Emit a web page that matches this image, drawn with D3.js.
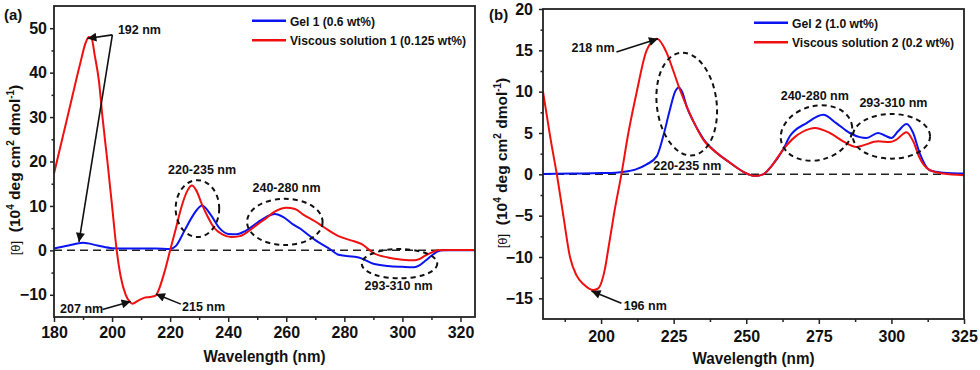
<!DOCTYPE html>
<html>
<head>
<meta charset="utf-8">
<script src="https://cdn.jsdelivr.net/npm/d3@7"></script>
<style>
body { margin: 0; background: #fff; }
svg { font-family: "Liberation Sans", Arial, Helvetica, sans-serif; font-weight: bold; }
</style>
</head>
<body>
<div id="chart"></div>
<script>
// ---- Panel (a) data ----
const wlGel1 = [180,185,190,195,200,205,210,215,220,222,225,228,231,234,237,240,243,246,250,253,256,259,262,265,267,270,275,278,285,290,295,300,304,306,308,310,312,314,316,320,325]
const valGel1 = [0.4,1.1,1.7,1.1,0.5,0.4,0.4,0.4,0.3,1.0,4.5,8.0,10.1,8.0,5.0,3.7,3.6,4.4,6.2,7.5,8.2,7.5,6.0,4.8,3.8,2.3,0.3,-1.0,-1.6,-3.0,-3.5,-3.7,-3.8,-3.3,-2.3,-1.2,-0.3,0,0,0,0]

const wlVisc1 = [180,183,186,189,191,192,193,194,195.5,196.7,198.4,200,201.6,203,204.7,206,207,209,211,213,215,216,218,220,222,224,226,227.5,229,231,233,235,238,241,244,247,250,253,256,260,263,266,270,273,278,282,286,290,295,300,304,306,308,310,312,316,320,325]
const valVisc1 = [17.3,25.5,33.8,42,46.9,48,47.6,44,38,30,20,10,0,-6,-10,-11.5,-12,-11.3,-10.7,-10.5,-10.2,-9,-5,0,5,10,13.5,14.6,13.5,10.3,7.5,5.2,3.6,3.0,3.2,4.3,5.8,7.2,8.7,9.6,9.3,8.0,6.5,5.2,3.2,2.3,1.4,-0.6,-1.6,-2.1,-2.25,-1.9,-1.1,-0.5,0,0.1,0.1,0.1]

const xTicksA = [180,200,220,240,260,280,300,320]
const xMinorA = [190,210,230,250,270,290,310]
const yTicksA = [-10,0,10,20,30,40,50]
const yMinorA = [-5,5,15,25,35,45]

// ---- Panel (b) data ----
const wlGel2 = [180,190,200,205,208,212,215.7,219.2,221.4,223.7,225.5,226.8,228,229.5,231.8,235.2,239.8,244.4,249,253,255.8,258.7,262.7,265,270.8,276.5,281,285.7,289.1,291.4,295.4,297.7,300,302.3,305.2,307.5,309.7,313.2,317.8,325]
const valGel2 = [0.05,0.1,0.15,0.2,0.3,0.6,1.2,2.2,4.6,7.8,10,10.5,9.9,8.2,6.4,4.3,2.6,1.4,0.3,-0.2,0,1,3,4.6,6.2,7.2,6.2,5,4.5,4.4,5,4.7,4.4,5.2,6.1,5,2.6,0.5,0.2,0.1]

const wlVisc2 = [180,182.5,185,187,189.3,191.5,194,197.4,199,200.2,201.3,202.5,204.6,207,209.4,212.3,215.7,219.2,222.6,224.9,227.2,229.5,231.8,235.2,239.8,244.4,249,253,255.8,258.7,262.7,266.7,271.9,273.6,278.8,283.4,288,290.3,295.4,299.4,301.7,305.2,307.5,309.7,313.2,317.8,325]
const valVisc2 = [10,4.5,-0.5,-5,-10,-12.2,-13.3,-14,-13.8,-13,-11.5,-9,-4.5,0,5,10,15,16.4,14.7,12.5,10.2,8.2,6.4,4.2,2.6,1.4,0.3,-0.2,0,1,3,4.5,5.5,5.6,5,4,3.3,3.5,4,3.9,4.2,5.1,4,2,0.5,0.1,-0.1]

const xTicksB = [200,225,250,275,300,325]
const xMinorB = [187.5,212.5,237.5,262.5,287.5,312.5]
const yTicksB = [-15,-10,-5,0,5,10,15,20]
const yMinorB = [-12.5,-7.5,-2.5,2.5,7.5,12.5,17.5]

// ---- annotations (data coordinates) ----
const notesA = [
    {t: "192 nm", x: 202, y: 48.7, a: "start"},
    {t: "207 nm", x: 182.1, y: -14.1, a: "start"},
    {t: "215 nm", x: 224.1, y: -13.6, a: "start"},
    {t: "220-235 nm", x: 231, y: 17.2, a: "middle"},
    {t: "240-280 nm", x: 260.1, y: 13.1, a: "middle"},
    {t: "293-310 nm", x: 298.7, y: -8.9, a: "middle"},
]
const arrowsA = [
    [200.1, 48.5, 191.5, 47.7],
    [200.1, 48.5, 188.6, 1.9],
    [196.7, -13.3, 206.4, -11.5],
    [223.7, -12.1, 215.1, -9.8],
]
const ellipsesA = [
    [229.4, 9.4, 7.5, 6.4, 0],
    [259.5, 6.4, 13, 5.2, 0],
    [299, -3, 13, 3.3, 0],
]

const notesB = [
    {t: "218 nm", x: 189.8, y: 14.8, a: "start"},
    {t: "196 nm", x: 207.8, y: -16.4, a: "start"},
    {t: "220-235 nm", x: 229.7, y: 0.55, a: "middle"},
    {t: "240-280 nm", x: 273.6, y: 9.0, a: "middle"},
    {t: "293-310 nm", x: 300.7, y: 8.1, a: "middle"},
]
const arrowsB = [
    [205.3, 14.8, 219.6, 16.4],
    [207.0, -15.6, 196.7, -14.1],
]
const ellipsesB = [
    [229.5, 8.5, 10.3, 6.25, -7],
    [274.2, 5, 12.5, 3.27, -15],
    [300, 4.6, 13.3, 2.7, 0],
]

const svg = d3.select("#chart").append("svg")
    .attr("width", 980)
    .attr("height", 370)

svg.append("defs").append("marker")
    .attr("id", "head")
    .attr("viewBox", "0 0 10 10")
    .attr("refX", 10).attr("refY", 5)
    .attr("markerWidth", 13).attr("markerHeight", 9)
    .attr("markerUnits", "userSpaceOnUse")
    .attr("orient", "auto")
    .append("path")
    .attr("d", "M0,0 L10,5 L0,10 Z")
    .attr("fill", "#111")

const drawPanel = (p) => {
    const x = d3.scaleLinear().domain(p.xDomain).range([p.left, p.right])
    const y = d3.scaleLinear().domain(p.yDomain).range([p.bottom, p.top])

    const g = svg.append("g")

    // zero line
    g.append("line")
        .attr("x1", x(p.xDomain[0])).attr("x2", x(p.xDomain[1]))
        .attr("y1", y(0)).attr("y2", y(0))
        .attr("stroke", "#222").attr("stroke-width", 1.5)
        .attr("stroke-dasharray", "8,5")

    const line = d3.line()
        .x(d => x(d[0]))
        .y(d => y(d[1]))
        .curve(d3.curveMonotoneX)

    p.series.forEach(s => {
        g.append("path")
            .datum(d3.zip(s.wl, s.val))
            .attr("d", line)
            .attr("fill", "none")
            .attr("stroke", s.color)
            .attr("stroke-width", 2)
    })

    // axes
    g.append("g").attr("transform", `translate(0,${p.bottom})`)
        .call(d3.axisBottom(x).tickValues(p.xTicks).tickSize(5).tickPadding(p.xPad).tickSizeOuter(0))
    g.append("g").attr("transform", `translate(0,${p.bottom})`)
        .call(d3.axisBottom(x).tickValues(p.xMinor).tickSize(3).tickFormat("").tickSizeOuter(0))
    g.append("g").attr("transform", `translate(${p.left},0)`)
        .call(d3.axisLeft(y).tickValues(p.yTicks).tickSize(4).tickPadding(p.yPad).tickSizeOuter(0))
    g.append("g").attr("transform", `translate(${p.left},0)`)
        .call(d3.axisLeft(y).tickValues(p.yMinor).tickSize(2.5).tickFormat("").tickSizeOuter(0))
    g.selectAll(".domain").remove()
    g.selectAll(".tick line").attr("stroke", "#222").attr("stroke-width", 1.5)
    g.selectAll(".tick text").attr("font-size", 16).attr("font-weight", "bold")
        .attr("fill", "#111").attr("font-family", "Liberation Sans, Arial, sans-serif")

    g.append("rect")
        .attr("x", p.left).attr("y", p.top)
        .attr("width", p.right - p.left).attr("height", p.bottom - p.top)
        .attr("fill", "none").attr("stroke", "#222").attr("stroke-width", 1.8)

    // annotations
    p.arrows.forEach(a => {
        g.append("line")
            .attr("x1", x(a[0])).attr("y1", y(a[1]))
            .attr("x2", x(a[2])).attr("y2", y(a[3]))
            .attr("stroke", "#111").attr("stroke-width", 1.6)
            .attr("marker-end", "url(#head)")
    })
    p.ellipses.forEach(e => {
        const cx = x(e[0]), cy = y(e[1])
        g.append("ellipse")
            .attr("cx", cx).attr("cy", cy)
            .attr("rx", x(e[0] + e[2]) - cx)
            .attr("ry", cy - y(e[1] + e[3]))
            .attr("transform", `rotate(${e[4]},${cx},${cy})`)
            .attr("fill", "none").attr("stroke", "#111")
            .attr("stroke-width", 2).attr("stroke-dasharray", "5,4")
    })
    g.selectAll(".note").data(p.notes).enter()
        .append("text")
        .attr("x", d => x(d.x)).attr("y", d => y(d.y))
        .attr("text-anchor", d => d.a)
        .attr("font-size", 12.5).attr("fill", "#111")
        .text(d => d.t)

    // legend
    p.series.forEach((s, i) => {
        const ly = p.legendY + i * 19.5
        g.append("line")
            .attr("x1", p.legendX).attr("x2", p.legendX + 34)
            .attr("y1", ly).attr("y2", ly)
            .attr("stroke", s.color).attr("stroke-width", 2.4)
        g.append("text")
            .attr("x", p.legendX + 38).attr("y", ly + 5)
            .attr("font-size", 13.5).attr("fill", "#111")
            .attr("textLength", s.textLen).attr("lengthAdjust", "spacingAndGlyphs")
            .text(s.name)
    })

    // titles
    g.append("text")
        .attr("x", (p.left + p.right) / 2).attr("y", p.bottom + 45)
        .attr("text-anchor", "middle").attr("font-size", 17).attr("fill", "#111")
        .attr("textLength", 122).attr("lengthAdjust", "spacingAndGlyphs")
        .text("Wavelength (nm)")

    const yt = g.append("text")
        .attr("transform", `translate(${p.yTitleX},${p.yTitleY}) rotate(-90)`)
        .attr("text-anchor", "middle").attr("font-size", 15.5).attr("fill", "#111")
    yt.append("tspan").attr("font-size", 13).attr("font-weight", "normal").text("[θ]")
    yt.append("tspan").text("\u00a0\u00a0(10")
    yt.append("tspan").attr("font-size", 10).attr("dy", -6).text("4")
    yt.append("tspan").attr("dy", 6).text(" deg cm")
    yt.append("tspan").attr("font-size", 10).attr("dy", -6).text("2")
    yt.append("tspan").attr("dy", 6).text(" dmol")
    yt.append("tspan").attr("font-size", 10).attr("dy", -6).text("-1")
    yt.append("tspan").attr("dy", 6).text(")")

    svg.append("text")
        .attr("x", p.tagX).attr("y", p.tagY)
        .attr("font-size", 15).attr("fill", "#111")
        .text(p.tag)
}

drawPanel({
    left: 54, right: 475, top: 6, bottom: 317,
    xDomain: [180, 325], yDomain: [-15, 55],
    xTicks: xTicksA, xMinor: xMinorA, yTicks: yTicksA, yMinor: yMinorA,
    xPad: 5, yPad: 3,
    series: [
        {name: "Gel 1 (0.6 wt%)", wl: wlGel1, val: valGel1, color: "#0a14f0", textLen: 85},
        {name: "Viscous solution 1 (0.125 wt%)", wl: wlVisc1, val: valVisc1, color: "#f01010", textLen: 176},
    ],
    notes: notesA, arrows: arrowsA, ellipses: ellipsesA,
    legendX: 252, legendY: 20.7,
    yTitleX: 20, yTitleY: 170,
    tag: "(a)", tagX: 4, tagY: 20,
})

drawPanel({
    left: 543, right: 964, top: 9, bottom: 319,
    xDomain: [180, 325], yDomain: [-17.5, 20],
    xTicks: xTicksB, xMinor: xMinorB, yTicks: yTicksB, yMinor: yMinorB,
    xPad: 7, yPad: 6,
    series: [
        {name: "Gel 2 (1.0 wt%)", wl: wlGel2, val: valGel2, color: "#0a14f0", textLen: 86},
        {name: "Viscous solution 2 (0.2 wt%)", wl: wlVisc2, val: valVisc2, color: "#f01010", textLen: 162},
    ],
    notes: notesB, arrows: arrowsB, ellipses: ellipsesB,
    legendX: 754, legendY: 22.7,
    yTitleX: 507, yTitleY: 163,
    tag: "(b)", tagX: 489, tagY: 20,
})
</script>
</body>
</html>
